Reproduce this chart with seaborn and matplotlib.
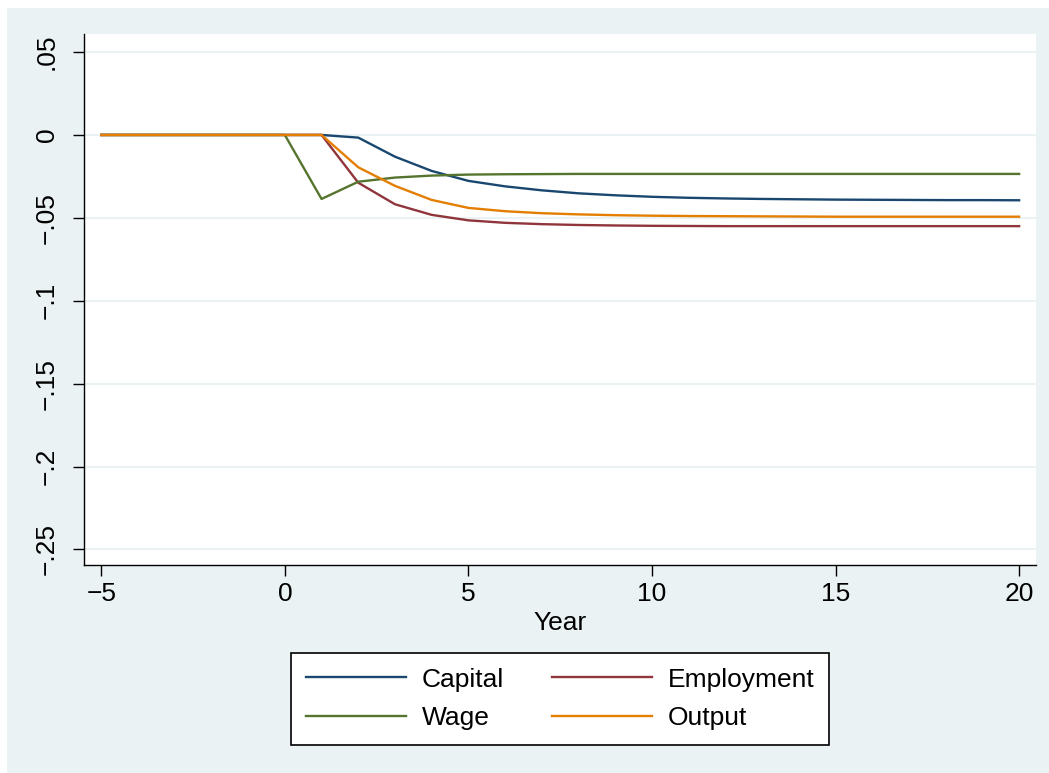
import numpy as np
import pandas as pd
import matplotlib
matplotlib.use("Agg")
import matplotlib.pyplot as plt
import matplotlib.patches as mpatches
from matplotlib.ticker import FixedLocator, FixedFormatter
import seaborn as sns

# Impulse responses by year relative to the shock
years = list(range(-5, 21))
capital = [0, 0, 0, 0, 0, 0, 0, -0.0016, -0.0131, -0.0217, -0.0277, -0.0310,
           -0.0334, -0.0352, -0.0364, -0.0373, -0.0379, -0.0383, -0.0386,
           -0.0388, -0.0390, -0.0391, -0.0392, -0.0393, -0.0393, -0.0394]
employment = [0, 0, 0, 0, 0, 0, 0, -0.0288, -0.0418, -0.0482, -0.0515, -0.0530,
              -0.0538, -0.0543, -0.0546, -0.0548, -0.0549, -0.0550, -0.0550,
              -0.0550, -0.0550, -0.0550, -0.0550, -0.0550, -0.0550, -0.0550]
wage = [0, 0, 0, 0, 0, 0, -0.0386, -0.0282, -0.0257, -0.0245, -0.0239, -0.0237,
        -0.0236, -0.0235, -0.0235, -0.0235, -0.0235, -0.0235, -0.0235,
        -0.0235, -0.0235, -0.0235, -0.0235, -0.0235, -0.0235, -0.0235]
output = [0, 0, 0, 0, 0, 0, 0, -0.0195, -0.0307, -0.0392, -0.0440, -0.0460,
          -0.0472, -0.0479, -0.0484, -0.0487, -0.0489, -0.0490, -0.0491,
          -0.0492, -0.0493, -0.0493, -0.0493, -0.0493, -0.0493, -0.0493]

series_names = ["Capital", "Employment", "Wage", "Output"]
x_ticks = [-5, 0, 5, 10, 15, 20]
x_ticklabels = ["\u22125", "0", "5", "10", "15", "20"]
y_ticks = [0.05, 0, -0.05, -0.1, -0.15, -0.2, -0.25]
y_ticklabels = [".05", "0", "\u2212.05", "\u2212.1", "\u2212.15", "\u2212.2", "\u2212.25"]

df = pd.DataFrame({
    "Year": years * 4,
    "value": capital + employment + wage + output,
    "series": sum([[n] * len(years) for n in series_names], []),
})

palette = {"Capital": "#1a476f", "Employment": "#90353b",
           "Wage": "#55752f", "Output": "#e37e00"}
bg = "#eaf2f3"

plt.rcParams["font.family"] = ["Liberation Sans", "DejaVu Sans"]
FS = 19
LW = 1.7

W, H = 1049, 773
fig = plt.figure(figsize=(W / 100, H / 100), dpi=100, facecolor="white")
fig.patches.append(mpatches.Rectangle((7 / W, 0), 1, 1 - 8 / H,
                                      transform=fig.transFigure,
                                      facecolor=bg, edgecolor="none", zorder=-10))

left, right, top, bottom = 84, 1036, 34, 565
ax = fig.add_axes([left / W, 1 - bottom / H, (right - left) / W, (bottom - top) / H])
ax.set_facecolor("white")

sns.lineplot(data=df, x="Year", y="value", hue="series", hue_order=series_names,
             palette=palette, linewidth=LW, ax=ax, legend=False, zorder=3)

ax.set_xlim(-5.47, 20.46)
ax.set_ylim(-0.2594, 0.0609)

for yv in y_ticks:
    ax.axhline(yv, color=bg, linewidth=1.5, zorder=1)

ax.xaxis.set_major_locator(FixedLocator(x_ticks))
ax.xaxis.set_major_formatter(FixedFormatter(x_ticklabels))
ax.yaxis.set_major_locator(FixedLocator(y_ticks))
ax.yaxis.set_major_formatter(FixedFormatter(y_ticklabels))
ax.tick_params(axis="both", direction="out", length=8, width=1.0, colors="black",
               labelsize=FS, pad=4)
ax.tick_params(axis="y", pad=10)
for lab in ax.get_yticklabels():
    lab.set_rotation(90)
    lab.set_va("center")

for s in ["top", "right"]:
    ax.spines[s].set_visible(False)
for s in ["left", "bottom"]:
    ax.spines[s].set_color("black")
    ax.spines[s].set_linewidth(1.0)

ax.set_xlabel("Year", fontsize=FS, labelpad=4)
ax.set_ylabel("")

# Row-wise legend order: Capital, Employment / Wage, Output
legend_order = ["Capital", "Wage", "Employment", "Output"]
handles = [plt.Line2D([], [], color=palette[n], linewidth=LW) for n in legend_order]
leg = fig.legend(handles, legend_order, loc="upper center",
                 bbox_to_anchor=(560 / W, 1 - 653 / H), ncol=2, fontsize=FS,
                 frameon=True, fancybox=False, edgecolor="black", facecolor="white",
                 framealpha=1, handlelength=3.8, handletextpad=0.6,
                 columnspacing=1.8, labelspacing=0.55, borderpad=0.55,
                 borderaxespad=0)
leg.get_frame().set_linewidth(1.2)

fig.savefig("out.png", dpi=100, facecolor=fig.get_facecolor())
